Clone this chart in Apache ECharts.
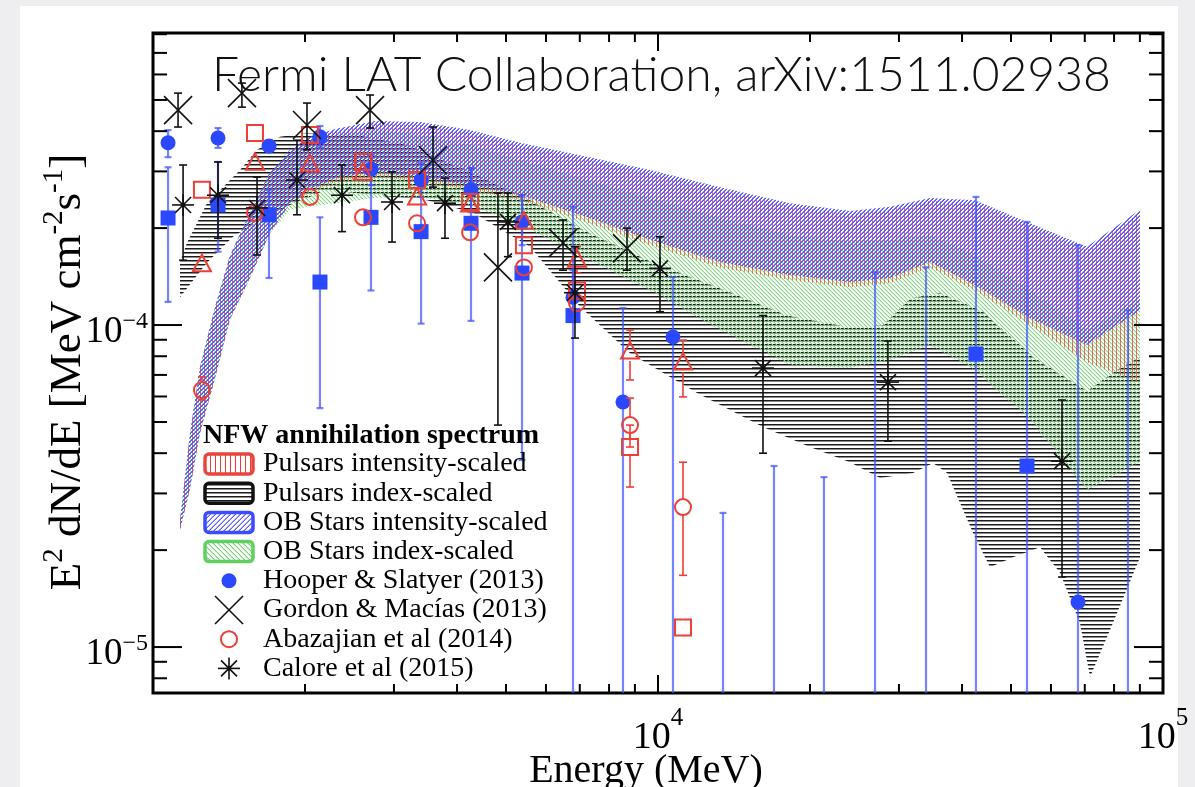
<!DOCTYPE html>
<html><head><meta charset="utf-8">
<script src="https://cdn.jsdelivr.net/npm/echarts/dist/echarts.min.js"></script>
<style>
html,body{margin:0;padding:0;background:#eeeef0;width:1195px;height:787px;overflow:hidden}
#panel{position:absolute;left:20px;top:6px;width:1158px;height:781px;background:#fff}
#chart{position:absolute;left:0;top:0;width:1195px;height:787px}
</style></head><body><div id="panel"></div><div id="chart"></div>
<script>
// ---------------- texts ----------------
const TITLE = 'Fermi LAT Collaboration, arXiv:1511.02938';
const legendTitle = 'NFW annihilation spectrum';
const legendNames = ['Pulsars intensity-scaled','Pulsars index-scaled','OB Stars intensity-scaled','OB Stars index-scaled',
  'Hooper & Slatyer (2013)','Gordon & Macías (2013)','Abazajian et al (2014)','Calore et al (2015)'];

// ---------------- axes ----------------
const xMin = 1000, xMax = 100000;
const yMin = 7.2e-6, yMax = 8.07e-4;
const xMajorTicks = [1e3, 1e4, 1e5];
const xMinorTicks = [2e3,3e3,4e3,5e3,6e3,7e3,8e3,9e3,2e4,3e4,4e4,5e4,6e4,7e4,8e4,9e4];
const yMajorTicks = [1e-5, 1e-4];
const yMinorTicks = [8e-6,9e-6,2e-5,3e-5,4e-5,5e-5,6e-5,7e-5,8e-5,9e-5,2e-4,3e-4,4e-4,5e-4,6e-4,7e-4,8e-4];

// ---------------- bands (E in MeV, E^2 dN/dE) ----------------
const bandE = [1131,1184,1239,1327,1420,1556,1705,1867,2046,2293,2752,3379,4245,5330,7008,9643,13270,18260,24000,28800,34560,42440,54530,70700,90050];
const obIntHi = [2.48e-5,4.62e-5,7.41e-5,1.14e-4,1.64e-4,2.24e-4,2.99e-4,3.50e-4,3.84e-4,4.06e-4,4.30e-4,4.27e-4,4.03e-4,3.68e-4,3.37e-4,3.03e-4,2.68e-4,2.39e-4,2.26e-4,2.33e-4,2.48e-4,2.44e-4,2.07e-4,1.75e-4,2.28e-4];
const obIntLo = [2.31e-5,3.10e-5,4.62e-5,6.84e-5,1.04e-4,1.40e-4,1.93e-4,2.38e-4,2.63e-4,2.86e-4,2.99e-4,2.86e-4,2.72e-4,2.53e-4,2.20e-4,1.84e-4,1.57e-4,1.43e-4,1.36e-4,1.40e-4,1.57e-4,1.33e-4,1.05e-4,8.67e-5,1.11e-4];
const psrIntHi = [2.48e-5,4.62e-5,7.41e-5,1.14e-4,1.64e-4,2.24e-4,2.99e-4,3.45e-4,3.78e-4,4.00e-4,4.21e-4,4.18e-4,3.95e-4,3.60e-4,3.30e-4,2.96e-4,2.63e-4,2.34e-4,2.21e-4,2.28e-4,2.43e-4,2.39e-4,2.03e-4,1.71e-4,2.23e-4];
const psrIntLo = [2.31e-5,3.10e-5,4.62e-5,6.84e-5,1.04e-4,1.40e-4,1.93e-4,2.38e-4,2.59e-4,2.78e-4,2.90e-4,2.78e-4,2.63e-4,2.44e-4,2.12e-4,1.77e-4,1.51e-4,1.38e-4,1.31e-4,1.35e-4,1.51e-4,1.28e-4,1.00e-4,7.67e-5,6.60e-5];
const obIdxHi = [2.48e-5,4.62e-5,7.41e-5,1.14e-4,1.64e-4,2.24e-4,2.99e-4,3.45e-4,3.75e-4,3.89e-4,4.03e-4,3.89e-4,3.62e-4,3.25e-4,2.86e-4,2.48e-4,2.15e-4,1.90e-4,1.81e-4,1.84e-4,1.90e-4,1.65e-4,1.28e-4,9.65e-5,1.20e-4];
const obIdxLo = [2.31e-5,3.10e-5,4.62e-5,6.84e-5,1.04e-4,1.40e-4,1.93e-4,2.28e-4,2.33e-4,2.39e-4,2.48e-4,2.50e-4,2.36e-4,2.05e-4,1.65e-4,1.28e-4,9.65e-5,7.51e-5,7.35e-5,7.78e-5,8.67e-5,7.25e-5,5.07e-5,3.07e-5,3.75e-5];
const psrIdxHiE = [1131,1168,1279,1487,1607,1784,2018,2535,3184,3536,4245,5579,7235,9775,13270,18010,24330,27900,31550,36180,44020,55290,70700,81090,90050];
const psrIdxHi = [1.57e-4,1.80e-4,2.39e-4,3.03e-4,3.50e-4,3.84e-4,3.95e-4,3.89e-4,3.62e-4,3.37e-4,2.99e-4,2.44e-4,1.95e-4,1.56e-4,1.30e-4,1.07e-4,9.79e-5,1.00e-4,1.21e-4,1.26e-4,1.10e-4,7.96e-5,6.24e-5,7.25e-5,7.96e-5];
const psrIdxLoE = [1131,1279,1440,1607,1867,2211,2752,3488,4304,5579,7008,8803,11950,16140,20000,24000,27520,31990,35040,37360,42060,45440,50470,57070,62520,68470,71700,79620,90050];
const psrIdxLo = [1.22e-4,1.56e-4,1.88e-4,2.09e-4,2.36e-4,2.63e-4,2.53e-4,2.44e-4,2.23e-4,1.75e-4,1.14e-4,8.18e-5,6.15e-5,4.82e-5,4.18e-5,3.75e-5,3.35e-5,3.47e-5,3.73e-5,3.47e-5,2.26e-5,1.77e-5,1.90e-5,2.04e-5,1.70e-5,1.19e-5,8.07e-6,1.19e-5,1.90e-5];

// ---------------- data points: [E, value, low, high]  (low 0 = extends below axis) ----------------
const hooperCircles = [
 [1071,3.68e-4,3.32e-4,4.03e-4],[1345,3.81e-4,3.55e-4,4.09e-4],[1697,3.60e-4,3.45e-4,3.75e-4],
 [2141,3.84e-4,3.55e-4,4.15e-4],[2702,3.05e-4,2.72e-4,3.37e-4],[3395,2.82e-4,2.50e-4,3.18e-4],
 [4263,2.63e-4,2.24e-4,3.07e-4],[5379,2.09e-4,1.77e-4,2.53e-4],[6787,1.22e-4,1.04e-4,1.48e-4],
 [8524,5.77e-5,0,1.13e-4],[10707,9.18e-5,0,1.41e-4],[67870,1.38e-5,0,1.77e-4]];
const hooperSquares = [
 [1071,2.15e-4,1.18e-4,3.09e-4],[1345,2.36e-4,1.69e-4,3.21e-4],[1697,2.20e-4,1.40e-4,2.63e-4],
 [2141,1.36e-4,5.52e-5,2.16e-4],[2702,2.16e-4,1.28e-4,2.92e-4],[3395,1.95e-4,1.01e-4,2.68e-4],
 [4263,2.07e-4,1.03e-4,3.07e-4],[5379,1.45e-4,3.81e-5,2.53e-4],[6787,1.07e-4,0,2.33e-4],
 [42620,8.13e-5,0,2.50e-4],[53790,3.65e-5,0,2.09e-4]];
const hooperBarsOnly = [ // central value below the axis: [E, low, high]
 [13450,0,2.61e-5],[16970,0,3.65e-5],[21310,0,3.37e-5],[26900,0,1.46e-4],[33940,0,1.51e-4],[85240,0,1.11e-4]];
const abazajianTriangles = [
 [1250,1.54e-4],[1592,3.18e-4],[2046,3.14e-4],[2605,2.96e-4],[3333,2.48e-4],[4245,2.36e-4],
 [5427,2.09e-4],[6912,1.59e-4,1.45e-4,1.75e-4],[8803,8.24e-5,6.75e-5,9.65e-5],[11207,7.62e-5,5.98e-5,8.98e-5]];
const abazajianSquares = [
 [1250,2.63e-4],[1592,3.95e-4],[2046,3.89e-4],[2605,3.21e-4],[3333,2.82e-4],[4245,2.41e-4],
 [5427,1.77e-4],[6912,1.28e-4],[8803,4.18e-5,3.14e-5,4.89e-5],[11207,1.15e-5]];
const abazajianCircles = [
 [1250,6.28e-5,5.85e-5,6.90e-5],[1592,2.23e-4],[2046,2.50e-4],[2605,2.16e-4],[3333,2.07e-4],[4245,1.94e-4],
 [5427,1.51e-4],[6912,1.17e-4],[8803,4.89e-5,4.18e-5,5.93e-5],[11207,2.72e-5,1.67e-5,3.75e-5]];
const gordon = [
 [1121,4.65e-4,4.12e-4,5.25e-4],[1500,5.25e-4,4.75e-4,5.64e-4],[2018,4.18e-4,3.50e-4,4.89e-4],
 [2690,4.65e-4,4.09e-4,5.18e-4],[3585,3.25e-4,2.68e-4,4.12e-4],[4820,1.51e-4,4.89e-5,2.57e-4],
 [6486,1.80e-4,1.48e-4,2.12e-4],[8682,1.73e-4,1.48e-4,2.00e-4]];
const calore = [
 [1147,2.36e-4,1.59e-4,3.14e-4],[1345,2.53e-4,1.86e-4,3.21e-4],[1607,2.31e-4,1.65e-4,2.88e-4],
 [1928,2.82e-4,2.20e-4,3.75e-4],[2367,2.53e-4,1.95e-4,3.14e-4],[2974,2.41e-4,1.81e-4,2.99e-4],
 [3786,2.39e-4,1.86e-4,2.86e-4],[5045,2.09e-4,1.63e-4,2.57e-4],[6848,1.26e-4,9.11e-5,1.75e-4],
 [10090,1.50e-4,1.10e-4,1.88e-4],[16140,7.35e-5,4.00e-5,1.07e-4],[28530,6.65e-5,4.36e-5,8.92e-5],
 [63100,3.78e-5,1.65e-5,5.85e-5]];

// ---------------- styles ----------------
const SERIF = '"Liberation Serif","DejaVu Serif",serif';
const BLUE = '#2a48ff', BLUEBAR = 'rgba(60,80,255,0.7)', RED = '#ec3f36', BLACK = '#111';

// tile-based hatch patterns (pixel lines)
function hatch(kind, color, n, a2) {
  const cv = document.createElement('canvas');
  cv.width = n; cv.height = n;
  const g = cv.getContext('2d');
  g.fillStyle = color;
  for (let i = 0; i < n; i++) {
    if (kind === 'v') g.fillRect(0, i, 1, 1);
    if (kind === 'h') { g.fillRect(i, 0, 1, 1); g.globalAlpha = 0.5; g.fillRect(i, 1, 1, 1); g.globalAlpha = 1; }
    if (kind === 'f') { g.fillRect(i, n - 1 - i, 1, 1); g.globalAlpha = a2; g.fillRect(i, (2 * n - 2 - i) % n, 1, 1); g.globalAlpha = 1; }
    if (kind === 'b') { g.fillRect(i, i, 1, 1); g.globalAlpha = a2; g.fillRect(i, (i + 1) % n, 1, 1); g.globalAlpha = 1; }
  }
  return { image: cv, repeat: 'repeat' };
}
const patRed = hatch('v', 'rgba(255,40,40,0.7)', 4);
const patBlack = hatch('h', '#1a1a1a', 4);
const patBlue = hatch('f', '#5050ff', 4, 0.75);
const patGreen = hatch('b', '#80dd80', 4, 0.4);

const seg = (x1, y1, x2, y2, st) => ({ type: 'line', shape: { x1, y1, x2, y2 }, style: st });

function marker(kind, x, y) {
  const sb = { stroke: BLACK, lineWidth: 1.6 };
  switch (kind) {
    case 'circleFill': return [{ type: 'circle', shape: { cx: x, cy: y, r: 7.5 }, style: { fill: BLUE } }];
    case 'squareFill': return [{ type: 'rect', shape: { x: x - 7.5, y: y - 7.5, width: 15, height: 15 }, style: { fill: BLUE } }];
    case 'circleOpen': return [{ type: 'circle', shape: { cx: x, cy: y, r: 8 }, style: { fill: 'none', stroke: RED, lineWidth: 2 } }];
    case 'squareOpen': return [{ type: 'rect', shape: { x: x - 8, y: y - 8, width: 16, height: 16 }, style: { fill: 'none', stroke: RED, lineWidth: 2 } }];
    case 'triOpen': return [{ type: 'polygon', shape: { points: [[x, y - 10], [x - 9, y + 6.5], [x + 9, y + 6.5]] }, style: { fill: 'none', stroke: RED, lineWidth: 2 } }];
    case 'cross': { const h = 14; return [seg(x - h, y - h, x + h, y + h, sb), seg(x - h, y + h, x + h, y - h, sb)]; }
    case 'star': { const h = 11, d = 8; return [seg(x - d, y - d, x + d, y + d, sb), seg(x - d, y + d, x + d, y - d, sb),
      seg(x - h, y, x + h, y, sb), seg(x, y - h, x, y + h, sb),
      { type: 'circle', shape: { cx: x, cy: y, r: 2.4 }, style: { fill: BLACK } }]; }
  }
  return [];
}

function pointSeries(name, rows, kind, barStyle, gap, capW, z) {
  return {
    type: 'custom', name, coordinateSystem: 'cartesian2d', silent: true, z,
    data: rows.map(r => [r[0], r[1]]),
    encode: { x: 0, y: 1 },
    renderItem(params, api) {
      const r = rows[params.dataIndex];
      const cs = params.coordSys, bottom = cs.y + cs.height;
      const c = api.coord([r[0], r[1]]);
      const ch = [];
      if (r.length > 2) {
        const yHi = api.coord([r[0], r[3]])[1];
        const yLo = r[2] > 0 ? Math.min(api.coord([r[0], r[2]])[1], bottom) : bottom;
        if (yHi < c[1] - gap) { ch.push(seg(c[0], yHi, c[0], c[1] - gap, barStyle)); ch.push(seg(c[0] - capW, yHi, c[0] + capW, yHi, barStyle)); }
        if (yLo > c[1] + gap) { ch.push(seg(c[0], c[1] + gap, c[0], yLo, barStyle)); if (yLo < bottom - 1) ch.push(seg(c[0] - capW, yLo, c[0] + capW, yLo, barStyle)); }
      }
      return { type: 'group', children: ch.concat(marker(kind, c[0], c[1])) };
    }
  };
}

function barsOnlySeries(name, rows, barStyle, capW, z) {
  return {
    type: 'custom', name, coordinateSystem: 'cartesian2d', silent: true, z,
    data: rows.map(r => [r[0], r[2]]),
    encode: { x: 0, y: 1 },
    renderItem(params, api) {
      const r = rows[params.dataIndex];
      const cs = params.coordSys, bottom = cs.y + cs.height;
      const p = api.coord([r[0], r[2]]);
      return { type: 'group', children: [seg(p[0], p[1], p[0], bottom, barStyle), seg(p[0] - capW, p[1], p[0] + capW, p[1], barStyle)] };
    }
  };
}

function bandSeries(name, Eu, up, El, lo, pattern, z) {
  return {
    type: 'custom', name, coordinateSystem: 'cartesian2d', silent: true, z,
    data: [[Eu[0], up[0]]],
    encode: { x: 0, y: 1 },
    renderItem(params, api) {
      const pts = [];
      for (let i = 0; i < Eu.length; i++) pts.push(api.coord([Eu[i], up[i]]));
      for (let i = El.length - 1; i >= 0; i--) pts.push(api.coord([El[i], lo[i]]));
      return { type: 'polygon', shape: { points: pts }, style: { fill: pattern } };
    }
  };
}

const tickStyle = { stroke: '#000', lineWidth: 2 };
const xTickRows = xMajorTicks.map(v => [v, 1]).concat(xMinorTicks.map(v => [v, 0]));
const yTickRows = yMajorTicks.map(v => [v, 1]).concat(yMinorTicks.map(v => [v, 0]));
const xTicksSeries = {
  type: 'custom', coordinateSystem: 'cartesian2d', silent: true, z: 30,
  data: xTickRows.map(t => [t[0], 1e-4]), encode: { x: 0, y: 1 },
  renderItem(params, api) {
    const t = xTickRows[params.dataIndex], cs = params.coordSys;
    const x = api.coord([t[0], 1e-4])[0], L = t[1] ? 18 : 9, b = cs.y + cs.height;
    return { type: 'group', children: [seg(x, b, x, b - L, tickStyle), seg(x, cs.y, x, cs.y + L, tickStyle)] };
  }
};
const yTicksSeries = {
  type: 'custom', coordinateSystem: 'cartesian2d', silent: true, z: 30,
  data: yTickRows.map(t => [1e4, t[0]]), encode: { x: 0, y: 1 },
  renderItem(params, api) {
    const t = yTickRows[params.dataIndex], cs = params.coordSys;
    const y = api.coord([1e4, t[0]])[1], L = t[1] ? 29 : 14, r = cs.x + cs.width;
    return { type: 'group', children: [seg(cs.x, y, cs.x + L, y, tickStyle), seg(r, y, r - L, y, tickStyle)] };
  }
};

function powLabel(v, hideExp) {
  const l = Math.log10(v), e = Math.round(l);
  if (Math.abs(l - e) > 1e-6 || e === hideExp) return '';
  return '{b|10}{s|' + (e < 0 ? '\u2212' : '') + Math.abs(e) + '}';
}

// ---------------- legend (graphic) ----------------
const legX = 205, legTitleY = 436, legRow0 = 464, legDy = 29.2;
const legIcons = [[hatch('v', '#f03a3a', 5), '#e8453c'], [hatch('h', '#1a1a1a', 4), '#111'], [hatch('f', '#5f5fff', 5, 0.55), '#3b4cff'], [hatch('b', '#74d674', 5, 0.45), '#5fd05f']];
const legMarkers = ['circleFill', 'cross', 'circleOpen', 'star'];
const graphics = [
  { type: 'text', x: 212, y: 76, z: 50, style: { text: TITLE, font: '300 48px "Lato Light", Lato, "Open Sans", sans-serif', fill: '#111', verticalAlign: 'middle' } },
  { type: 'text', x: 203, y: legTitleY, z: 50, style: { text: legendTitle, font: 'bold 28px ' + SERIF, fill: '#000', verticalAlign: 'middle' } }
];
legendNames.forEach((nm, i) => {
  const y = legRow0 + i * legDy;
  if (i < 4) {
    graphics.push({ type: 'rect', z: 50, shape: { x: legX, y: y - 10, width: 48, height: 20, r: 4 },
      style: { fill: legIcons[i][0], stroke: legIcons[i][1], lineWidth: 3.5 } });
  } else {
    marker(legMarkers[i - 4], legX + 24, y).forEach(m => { m.z = 50; graphics.push(m); });
  }
  graphics.push({ type: 'text', x: 263, y: y, z: 50, style: { text: nm, font: '28px ' + SERIF, fill: '#000', verticalAlign: 'middle' } });
});

const blueBar = { stroke: BLUEBAR, lineWidth: 2.2 };
const redBar = { stroke: RED, lineWidth: 1.6 };
const blackBar = { stroke: BLACK, lineWidth: 1.6 };

const chart = echarts.init(document.getElementById('chart'), null, { renderer: 'canvas' });
chart.setOption({
  animation: false,
  backgroundColor: 'transparent',
  grid: { left: 153, top: 33, width: 1010, height: 660, show: true, borderColor: '#000', borderWidth: 3,
    backgroundColor: 'transparent', containLabel: false, outerBoundsMode: 'none' },
  xAxis: {
    type: 'log', logBase: 10, min: xMin, max: xMax,
    axisLine: { show: false }, axisTick: { show: false }, splitLine: { show: false },
    axisLabel: { margin: 13, color: '#000', formatter: v => powLabel(v, 3),
      rich: { b: { fontFamily: SERIF, fontSize: 38, lineHeight: 64, color: '#000' },
              s: { fontFamily: SERIF, fontSize: 25, lineHeight: 25, verticalAlign: 'top', color: '#000' } } },
    name: 'Energy (MeV)', nameLocation: 'middle', nameGap: 56, nameMoveOverlap: false,
    nameTextStyle: { fontFamily: SERIF, fontSize: 40, lineHeight: 44, color: '#000', padding: [0, 24, 0, 0] }
  },
  yAxis: {
    type: 'log', logBase: 10, min: yMin, max: yMax,
    axisLine: { show: false }, axisTick: { show: false }, splitLine: { show: false },
    axisLabel: { margin: 5, color: '#000', formatter: v => powLabel(v, 99), padding: [14, 0, 0, 0],
      rich: { b: { fontFamily: SERIF, fontSize: 37, lineHeight: 44, color: '#000' },
              s: { fontFamily: SERIF, fontSize: 24, lineHeight: 24, verticalAlign: 'top', color: '#000' } } },
    name: 'E{s|2} dN/dE [MeV cm{s|-2}s{s|-1}]', nameLocation: 'middle', nameGap: 57, nameMoveOverlap: false,
    nameTextStyle: { fontFamily: SERIF, fontSize: 45, lineHeight: 56, color: '#000', padding: [0, 18, 0, 0],
      rich: { s: { fontFamily: SERIF, fontSize: 29, lineHeight: 29, verticalAlign: 'top', color: '#000' } } }
  },
  graphic: graphics,
  series: [
    bandSeries(legendNames[1], psrIdxHiE, psrIdxHi, psrIdxLoE, psrIdxLo, patBlack, 2),
    bandSeries(legendNames[3], bandE, obIdxHi, bandE, obIdxLo, patGreen, 3),
    bandSeries(legendNames[0], bandE, psrIntHi, bandE, psrIntLo, patRed, 4),
    bandSeries(legendNames[2], bandE, obIntHi, bandE, obIntLo, patBlue, 5),
    barsOnlySeries(legendNames[4], hooperBarsOnly, blueBar, 3.5, 10),
    pointSeries(legendNames[4], hooperSquares, 'squareFill', blueBar, 0, 3.5, 11),
    pointSeries(legendNames[4], hooperCircles, 'circleFill', blueBar, 0, 3.5, 12),
    pointSeries(legendNames[6], abazajianTriangles, 'triOpen', redBar, 9, 4, 13),
    pointSeries(legendNames[6], abazajianSquares, 'squareOpen', redBar, 8, 4, 13),
    pointSeries(legendNames[6], abazajianCircles, 'circleOpen', redBar, 8, 4, 13),
    pointSeries(legendNames[5], gordon, 'cross', blackBar, 0, 4, 14),
    pointSeries(legendNames[7], calore, 'star', blackBar, 0, 4, 14),
    xTicksSeries, yTicksSeries
  ]
});
</script></body></html>
